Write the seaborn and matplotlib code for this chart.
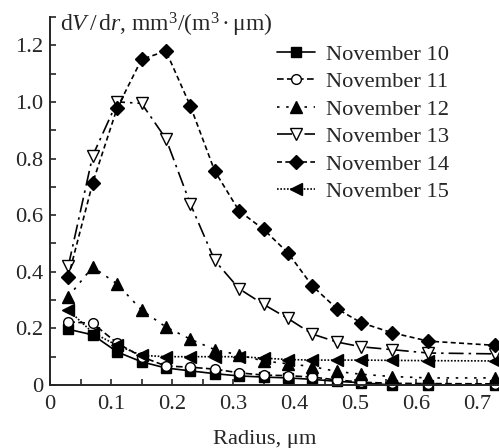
import matplotlib
matplotlib.use("Agg")
import matplotlib.pyplot as plt
import seaborn as sns
from matplotlib.ticker import MultipleLocator, FuncFormatter

sns.set_style("ticks")
plt.rcParams['font.family'] = ['Liberation Serif', 'DejaVu Serif']
plt.rcParams['mathtext.fontset'] = 'custom'
plt.rcParams['mathtext.rm'] = 'Liberation Serif'
plt.rcParams['mathtext.it'] = 'Liberation Serif:italic'

radius = [0.03, 0.07, 0.11, 0.15, 0.19, 0.23, 0.27, 0.31,
          0.35, 0.39, 0.43, 0.47, 0.51, 0.56, 0.62, 0.73]

nov10 = [0.197, 0.177, 0.117, 0.082, 0.060, 0.050, 0.040, 0.032,
         0.028, 0.025, 0.020, 0.013, 0.008, 0.0, 0.0, 0.0]
nov11 = [0.223, 0.218, 0.148, 0.100, 0.067, 0.063, 0.056, 0.043,
         0.035, 0.033, 0.028, 0.018, 0.010, 0.006, 0.005, 0.004]
nov12 = [0.312, 0.417, 0.357, 0.265, 0.205, 0.162, 0.125, 0.106,
         0.085, 0.075, 0.065, 0.048, 0.038, 0.030, 0.025, 0.025]
nov13 = [0.42, 0.81, 1.0, 0.995, 0.87, 0.64, 0.44, 0.34,
         0.285, 0.235, 0.18, 0.152, 0.135, 0.125, 0.113, 0.11]
nov14 = [0.382, 0.714, 0.978, 1.15, 1.18, 0.986, 0.756, 0.615,
         0.55, 0.467, 0.35, 0.27, 0.22, 0.185, 0.155, 0.14]
nov15 = [0.265, 0.185, 0.14, 0.105, 0.10, 0.10, 0.10, 0.10,
         0.095, 0.09, 0.088, 0.088, 0.088, 0.087, 0.086, 0.085]

series = [
    ("November 10", nov10, "s", "k", "-"),
    ("November 11", nov11, "o", "w", (0, (4, 2))),
    ("November 12", nov12, "^", "k", (0, (1.5, 4))),
    ("November 13", nov13, "v", "w", (0, (9, 3, 1.5, 3))),
    ("November 14", nov14, "D", "k", (0, (3, 2))),
    ("November 15", nov15, "<", "k", (0, (1, 1))),
]

FS = 16.2

fig = plt.figure(figsize=(4.99, 4.48), dpi=100)
ax = fig.add_axes([50 / 499, 63 / 448, 449 / 499, 368 / 448])

for name, vals, mk, face, ls in series:
    ms = 7 if mk in ("s", "o") else 8.5
    if mk == "D":
        ms = 7.5
    sns.lineplot(x=radius, y=vals, ax=ax, color="k", marker=mk, linestyle=ls,
                 linewidth=1.2, markersize=ms, markerfacecolor=face,
                 markeredgecolor="k", markeredgewidth=1.0, label=name,
                 clip_on=False)

ax.set_xlim(0, 0.736)
ax.set_ylim(0, 1.3)
ax.xaxis.set_major_locator(MultipleLocator(0.1))
ax.xaxis.set_minor_locator(MultipleLocator(0.05))
ax.yaxis.set_major_locator(MultipleLocator(0.2))
ax.yaxis.set_minor_locator(MultipleLocator(0.1))
fmt = FuncFormatter(lambda v, p: "0" if abs(v) < 1e-9 else f"{v:.1f}")
ax.xaxis.set_major_formatter(fmt)
ax.yaxis.set_major_formatter(fmt)
ax.tick_params(which="both", direction="in", width=1.2, labelsize=FS)
ax.tick_params(which="major", length=4)
ax.tick_params(which="minor", length=4)
ax.tick_params(axis="y", pad=5)
ax.tick_params(axis="x", pad=7)

sns.despine(ax=ax, top=True, right=True)
for side in ("left", "bottom"):
    ax.spines[side].set_linewidth(1.4)

ax.set_xlabel("")
ax.set_ylabel("")
fig.text(265 / 499, 1 - 439 / 448, "Radius, μm", fontsize=FS,
         ha="center", va="center")

fig.text(60 / 499, 1 - 25 / 448,
         r"d$V\,/\,$d$r$, mm$^3$/(m$^3\,$·$\,$μm)",
         fontsize=FS + 0.8, ha="left", va="center")

ax.legend(loc="upper left", bbox_to_anchor=(277 / 499, 1 - 44 / 448),
          bbox_transform=fig.transFigure, frameon=False, fontsize=FS,
          borderpad=0, borderaxespad=0, handlelength=1.7, handletextpad=0.5,
          labelspacing=0.3)

fig.savefig("out.png", dpi=100)
